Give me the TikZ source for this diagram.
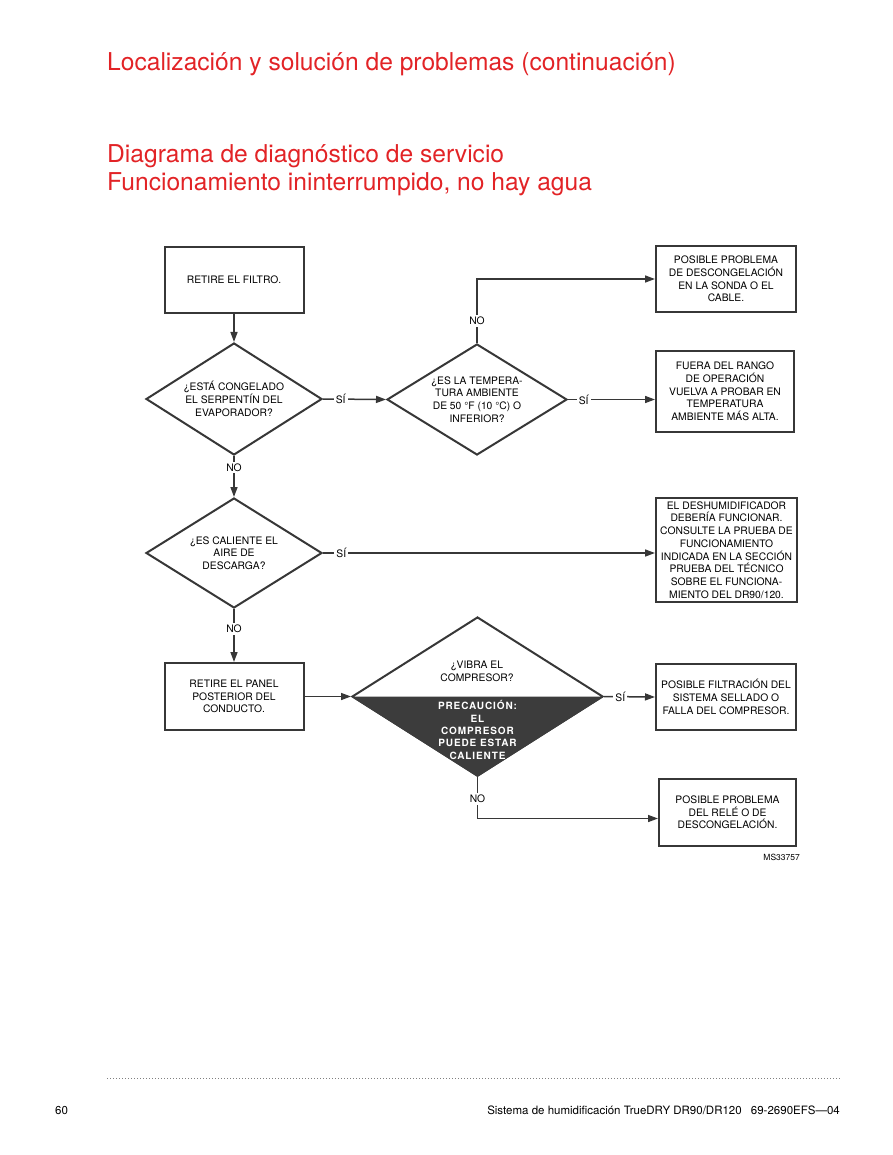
\documentclass[tikz,border=0pt]{standalone}
\usepackage{fontspec}
\setmainfont{TeX Gyre Heros}
\newfontfamily\warnfont[LetterSpace=9]{TeX Gyre Heros}
\usetikzlibrary{shapes.geometric, arrows.meta}
\definecolor{titlered}{RGB}{226,35,38}
\definecolor{linegray}{RGB}{55,55,55}
\definecolor{warngray}{RGB}{60,60,60}

\begin{document}
\begin{tikzpicture}[x=1pt, y=-1pt,
        box/.style={draw=linegray, line width=2pt, rectangle, align=center, inner sep=0pt, font=\fontsize{10.3}{12.7}\selectfont},
        question/.style={draw=linegray, line width=2pt, diamond, aspect=1.57, align=center, inner sep=0pt, font=\fontsize{10.3}{12.7}\selectfont},
        flow/.style={draw=linegray, line width=1.5pt, -{Triangle[length=10pt,width=7pt]}},
        answer/.style={fill=white, inner sep=2pt, font=\fontsize{10.3}{12}\selectfont},
        heading/.style={anchor=base west, text=titlered, inner sep=0pt, font=\fontsize{24.6}{28}\selectfont}]
        % Page frame, pixel units
        \useasboundingbox (0,0) rectangle (892,1155);

        % Headings
        \node[heading] (title) at (107,71) {Localización y solución de problemas (continuación)};
        \node[heading] (chart) at (107,163) {Diagrama de diagnóstico de servicio};
        \node[heading] (chartsub) at (107,191) {Funcionamiento ininterrumpido, no hay agua};

        % Left column
        \node[box, minimum width=139pt, minimum height=66pt] (filtro) at (234,280) {RETIRE EL FILTRO.};
        \node[question, minimum width=176pt, minimum height=112pt] (congelado) at (234,399) {¿ESTÁ CONGELADO\\EL SERPENTÍN DEL\\EVAPORADOR?};
        \node[question, minimum width=176pt, minimum height=110pt] (descarga) at (234,553) {¿ES CALIENTE EL\\AIRE DE\\DESCARGA?};
        \node[box, minimum width=139pt, minimum height=67pt] (panel) at (234,696.5) {RETIRE EL PANEL\\POSTERIOR DEL\\CONDUCTO.};

        % Middle column
        \node[question, minimum width=180pt, minimum height=111pt] (temperatura) at (477,399.5) {¿ES LA TEMPERA-\\TURA AMBIENTE\\DE 50 °F (10 °C) O\\INFERIOR?};
        \node[question, minimum width=251pt, minimum height=159pt] (vibra) at (477.5,696.5) {};
        % Dark lower half with the caution text
        \fill[warngray] (vibra.west) -- (vibra.east) -- (vibra.south) -- cycle;
        \node[align=center, inner sep=0pt, font=\fontsize{10.3}{12.7}\selectfont] (vibratext) at (477,671.5) {¿VIBRA EL\\COMPRESOR?};
        \node[align=center, inner sep=0pt, text=white, font=\warnfont\bfseries\fontsize{10}{12.3}\selectfont] (caution) at (477.5,730) {PRECAUCIÓN:\\EL\\COMPRESOR\\PUEDE ESTAR\\CALIENTE};

        % Right column (results)
        \node[box, minimum width=140pt, minimum height=66pt] (sonda) at (726,279) {POSIBLE PROBLEMA\\DE DESCONGELACIÓN\\EN LA SONDA O EL\\CABLE.};
        \node[box, minimum width=138pt, minimum height=81pt] (rango) at (725,391.5) {FUERA DEL RANGO\\DE OPERACIÓN\\VUELVA A PROBAR EN\\TEMPERATURA\\AMBIENTE MÁS ALTA.};
        \node[box, minimum width=141pt, minimum height=104pt] (funcionar) at (726.5,550) {EL DESHUMIDIFICADOR\\DEBERÍA FUNCIONAR.\\CONSULTE LA PRUEBA DE\\FUNCIONAMIENTO\\INDICADA EN LA SECCIÓN\\PRUEBA DEL TÉCNICO\\SOBRE EL FUNCIONA-\\MIENTO DEL DR90/120.};
        \node[box, minimum width=140pt, minimum height=66pt] (filtracion) at (726,697) {POSIBLE FILTRACIÓN DEL\\SISTEMA SELLADO O\\FALLA DEL COMPRESOR.};
        \node[box, minimum width=137pt, minimum height=67pt] (rele) at (727.5,812.5) {POSIBLE PROBLEMA\\DEL RELÉ O DE\\DESCONGELACIÓN.};

        % Connectors
        \draw[flow] (filtro) -- (congelado);
        \draw[flow] (congelado.east) -- node[answer, pos=0.28] {SÍ} (temperatura.west);
        \draw[flow] (temperatura.north) |- node[answer, pos=0.17] {NO} (sonda.west);
        \draw[flow] (temperatura.east) -- node[answer, pos=0.18] {SÍ} (temperatura.east -| rango.west);
        \draw[flow] (congelado.south) -- node[answer, pos=0.28] {NO} (descarga.north);
        \draw[flow] (descarga.east) -- node[answer, pos=0.055] {SÍ} (descarga.east -| funcionar.west);
        \draw[flow] (descarga.south) -- node[answer, pos=0.38] {NO} (panel.north);
        \draw[flow] (panel.east) -- (vibra.west);
        \draw[flow] (vibra.east) -- node[answer, pos=0.32] {SÍ} (filtracion.west);
        \draw[flow] (vibra.south) |- node[answer, pos=0.26] {NO} ([yshift=-6pt]rele.west);

        % Drawing number
        \node[anchor=east, inner sep=0pt, font=\fontsize{8.5}{10}\selectfont] (drawingno) at (800,857) {MS33757};

        % Footer
        \draw[gray, line width=1pt, dash pattern=on 1pt off 2pt] (107,1078) -- (840,1078);
        \node[anchor=west, inner sep=0pt, font=\fontsize{11.5}{13}\selectfont] (pagenum) at (55,1110) {60};
        \node[anchor=east, inner sep=0pt, font=\fontsize{11.5}{13}\selectfont] (docname) at (840,1110) {Sistema de humidificación TrueDRY DR90/DR120\hspace{0.8em}69-2690EFS—04};
\end{tikzpicture}
\end{document}
